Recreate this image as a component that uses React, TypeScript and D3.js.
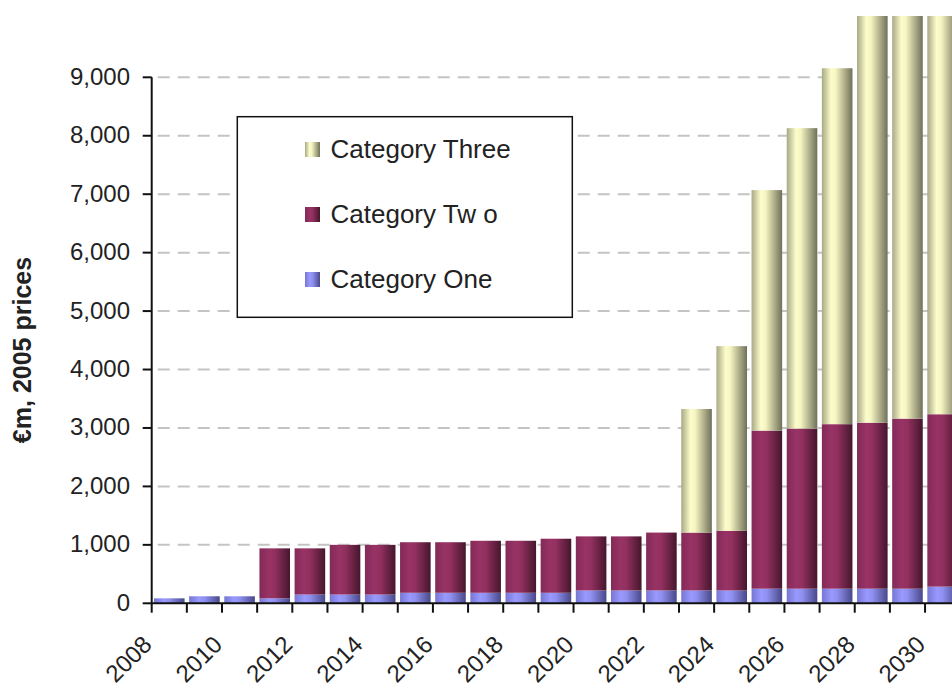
import React from "react";
import * as d3 from "d3";

// Yearly spending by category, €m at 2005 prices
const years = [
  "2008", "2009", "2010", "2011", "2012", "2013", "2014", "2015",
  "2016", "2017", "2018", "2019", "2020", "2021", "2022", "2023",
  "2024", "2025", "2026", "2027", "2028", "2029", "2030",
];
const categoryOne = [
  85, 120, 120, 85, 150, 150, 150, 180, 180, 180, 180, 180,
  220, 220, 220, 220, 220, 250, 250, 250, 250, 250, 285,
];
const categoryTwo = [
  0, 0, 0, 855, 790, 850, 850, 865, 865, 890, 890, 925,
  925, 925, 990, 990, 1020, 2705, 2740, 2815, 2840, 2910, 2950,
];
const categoryThree = [
  0, 0, 0, 0, 0, 0, 0, 0, 0, 0, 0, 0,
  0, 0, 0, 2115, 3160, 4115, 5140, 6090, 7160, 8140, 9115,
];
const yTicks = [0, 1000, 2000, 3000, 4000, 5000, 6000, 7000, 8000, 9000];
const seriesKeys = ["one", "two", "three"];
const legendItems = [
  { key: "three", label: "Category Three" },
  { key: "two", label: "Category Tw o" },
  { key: "one", label: "Category One" },
];
const axisTitle = "€m, 2005 prices";

const W = 952;
const H = 688;
const plotLeft = 151.7;
const plotRight = 960.2;
const plotTop = 16;
const baseY = 603.3;
const FONT = "'Liberation Sans', Arial, Helvetica, sans-serif";

// cylinder-like shading for each series
const shades: Record<string, [string, string][]> = {
  three: [
    ["0%", "#a8a884"],
    ["30%", "#fcfccc"],
    ["45%", "#f6f6c2"],
    ["100%", "#70705a"],
  ],
  two: [
    ["0%", "#822a58"],
    ["32%", "#993366"],
    ["50%", "#92305f"],
    ["100%", "#45162d"],
  ],
  one: [
    ["0%", "#7676d2"],
    ["32%", "#9999ff"],
    ["50%", "#9090f0"],
    ["100%", "#48488a"],
  ],
};

export default function App() {
  const rows = years.map((yr, i) => ({
    year: yr,
    one: categoryOne[i],
    two: categoryTwo[i],
    three: categoryThree[i],
  }));
  const stacked = d3.stack<any>().keys(seriesKeys)(rows);

  const x = d3
    .scaleBand<string>()
    .domain(years)
    .range([plotLeft, plotRight])
    .paddingInner(0.13)
    .paddingOuter(0.065);
  const step = x.step();
  const bw = x.bandwidth();

  const y = d3.scaleLinear().domain([0, 9000]).range([baseY, 77.3]);
  const fmt = d3.format(",");

  const labelYears = years.filter((_, i) => i % 2 === 0);
  const boundaries = d3.range(years.length + 1).map((i) => plotLeft + i * step);

  return (
    <svg
      width={W}
      height={H}
      style={{ position: "absolute", left: 0, top: 0, background: "#fff" }}
      fontFamily={FONT}
    >
      <defs>
        {Object.entries(shades).map(([k, stops]) => (
          <linearGradient key={k} id={`grad-${k}`} x1="0" x2="1" y1="0" y2="0">
            {stops.map(([o, c]) => (
              <stop key={o} offset={o} stopColor={c} />
            ))}
          </linearGradient>
        ))}
        <clipPath id="plot-clip">
          <rect x={plotLeft} y={plotTop} width={plotRight - plotLeft + 10} height={baseY - plotTop} />
        </clipPath>
      </defs>

      {/* dashed gridlines */}
      {yTicks
        .filter((t) => t > 0)
        .map((t) => (
          <line
            key={t}
            x1={plotLeft}
            x2={W + 20}
            y1={y(t)}
            y2={y(t)}
            stroke="#c4c4c4"
            strokeWidth={2}
            strokeDasharray="12 8"
            strokeDashoffset={-6}
          />
        ))}

      {/* stacked bars */}
      <g clipPath="url(#plot-clip)">
        {stacked.map((layer) => (
          <g key={layer.key} fill={`url(#grad-${layer.key})`}>
            {layer.map((d, i) => {
              const h = y(d[0]) - y(d[1]);
              if (h <= 0) return null;
              return (
                <rect
                  key={years[i]}
                  x={x(years[i])}
                  y={y(d[1])}
                  width={bw}
                  height={h}
                />
              );
            })}
          </g>
        ))}
      </g>

      {/* legend */}
      <rect x={237.3} y={116.7} width={335} height={200.6} fill="#fff" stroke="#111" strokeWidth={1.5} />
      {legendItems.map((it, i) => {
        const cy = 149.5 + i * 65;
        return (
          <g key={it.key}>
            <rect x={305} y={cy - 7.5} width={15} height={15} fill={`url(#grad-${it.key})`} />
            <text x={330.5} y={cy + 8.5} fontSize={26} fill="#222">
              {it.label}
            </text>
          </g>
        );
      })}

      {/* y axis */}
      <line x1={plotLeft} x2={plotLeft} y1={y(9000)} y2={baseY} stroke="#111" strokeWidth={2} />
      {yTicks.map((t) => (
        <g key={t}>
          <line x1={142.7} x2={plotLeft} y1={y(t)} y2={y(t)} stroke="#111" strokeWidth={2} />
          <text x={130} y={y(t) + 7.5} fontSize={24} textAnchor="end" fill="#222">
            {fmt(t)}
          </text>
        </g>
      ))}

      {/* x axis */}
      <line x1={plotLeft} x2={W + 20} y1={baseY} y2={baseY} stroke="#111" strokeWidth={2} />
      {boundaries.map((bx, i) => (
        <line key={i} x1={bx} x2={bx} y1={baseY} y2={612.7} stroke="#111" strokeWidth={2} />
      ))}
      {labelYears.map((yr) => {
        const cx = (x(yr) as number) + bw / 2;
        return (
          <text
            key={yr}
            transform={`translate(${cx - 16},646) rotate(-45)`}
            fontSize={24}
            textAnchor="end"
            fill="#222"
          >
            {yr}
          </text>
        );
      })}

      {/* axis title */}
      <text
        transform="translate(31,350) rotate(-90)"
        fontSize={25}
        fontWeight="bold"
        textAnchor="middle"
        fill="#222"
      >
        {axisTitle}
      </text>
    </svg>
  );
}
